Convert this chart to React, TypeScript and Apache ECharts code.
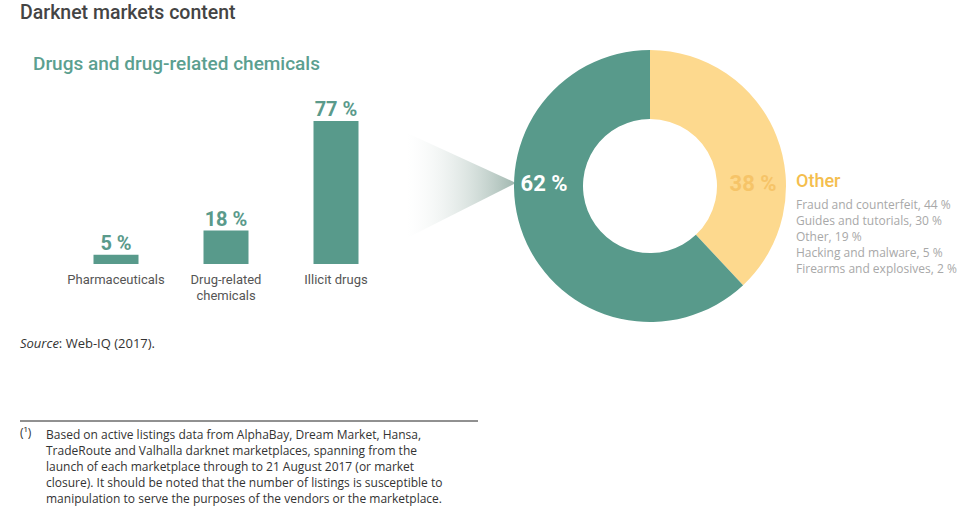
import React, { useEffect, useRef } from "react";
import * as echarts from "echarts";

const barCategories = ["Pharmaceuticals", "Drug-related\nchemicals", "Illicit drugs"];
const barValues = [5, 18, 77];

const pieNames = ["Other", "Drugs and drug-related chemicals"];
const pieValues = [38, 62];

const otherItems = [
  "Fraud and counterfeit",
  "Guides and tutorials",
  "Other",
  "Hacking and malware",
  "Firearms and explosives",
];
const otherValues = [44, 30, 19, 5, 2];

const footnoteLines = [
  "Based on active listings data from AlphaBay, Dream Market, Hansa,",
  "TradeRoute and Valhalla darknet marketplaces, spanning from the",
  "launch of each marketplace through to 21 August 2017 (or market",
  "closure). It should be noted that the number of listings is susceptible to",
  "manipulation to serve the purposes of the vendors or the marketplace.",
];

const TEAL = "#589a8b";
const YELLOW = "#fdd98e";
const FONT = "'Open Sans', Roboto, sans-serif";
const FONT2 = "Roboto, 'Noto Sans', sans-serif";

export default function App() {
  const ref = useRef<HTMLDivElement>(null);
  useEffect(() => {
    document.body.style.margin = "0";
    const chart = echarts.init(ref.current!, null, { renderer: "svg" });
    const cx = 650;
    const cy = 186;
    const graphics: any[] = [
      {
        type: "polygon",
        z: 0,
        shape: { points: [[407, 133], [516, 183], [407, 238]] },
        style: {
          fill: new echarts.graphic.LinearGradient(0, 0, 1, 0, [
            { offset: 0, color: "rgba(235,240,238,0)" },
            { offset: 1, color: "#9fb6ae" },
          ]),
        },
      },
      {
        type: "text",
        left: 20,
        top: 2,
        style: { text: "Darknet markets content", fontSize: 19.5, fontWeight: 500, fill: "#444", fontFamily: FONT2 },
      },
      {
        type: "text",
        left: 33,
        top: 54,
        style: { text: "Drugs and drug-related chemicals", fontSize: 19, fontWeight: 500, fill: "#5c9f90", fontFamily: FONT2 },
      },
      {
        type: "text",
        x: 544,
        y: cy - 3,
        z: 10,
        style: {
          text: pieValues[1] + " %",
          fontSize: 22,
          fontWeight: "bold",
          fill: "#fff",
          align: "center",
          verticalAlign: "middle",
          fontFamily: FONT2,
        },
      },
      {
        type: "text",
        x: 753,
        y: cy - 3,
        z: 10,
        style: {
          text: pieValues[0] + " %",
          fontSize: 22,
          fontWeight: "bold",
          fill: "#f6c468",
          align: "center",
          verticalAlign: "middle",
          fontFamily: FONT2,
        },
      },
      {
        type: "text",
        x: 796,
        y: 171,
        style: { text: pieNames[0], fontSize: 18, fontWeight: 500, fill: "#f4be4e", fontFamily: FONT2 },
      },
      {
        type: "text",
        x: 796,
        y: 196,
        style: {
          text: otherItems.map((n, i) => `${n}, ${otherValues[i]} %`).join("\n"),
          fontSize: 12,
          lineHeight: 16,
          fill: "#a8a8a8",
          fontFamily: FONT,
        },
      },
      {
        type: "text",
        x: 20,
        y: 336,
        style: {
          text: "{i|Source}: Web-IQ (2017).",
          fontSize: 13,
          fill: "#333",
          fontFamily: FONT,
          rich: { i: { fontStyle: "italic", fontSize: 13, fill: "#333", fontFamily: FONT } },
        },
      },
      {
        type: "line",
        shape: { x1: 20, y1: 421, x2: 478, y2: 421 },
        style: { stroke: "#222", lineWidth: 1 },
      },
      {
        type: "text",
        x: 20,
        y: 426,
        style: { text: "(¹)", fontSize: 12, fill: "#333", fontFamily: FONT },
      },
      {
        type: "text",
        x: 46,
        y: 426,
        style: { text: footnoteLines.join("\n"), fontSize: 12, lineHeight: 16, fill: "#333", fontFamily: FONT },
      },
    ];
    chart.setOption({
      animation: false,
      textStyle: { fontFamily: FONT },
      grid: { left: 61, width: 330, top: 121, height: 143 },
      xAxis: {
        type: "category",
        data: barCategories,
        axisLine: { show: false },
        axisTick: { show: false },
        axisLabel: { color: "#555", fontSize: 13, margin: 7, lineHeight: 16, interval: 0, fontFamily: FONT2 },
      },
      yAxis: {
        type: "value",
        min: 0,
        max: 77,
        show: false,
        splitLine: { show: false },
      },
      series: [
        {
          type: "bar",
          data: barValues,
          barWidth: 45,
          itemStyle: { color: TEAL },
          label: {
            show: true,
            position: "top",
            distance: 2,
            formatter: "{c} %",
            color: "#5a9a8b",
            fontSize: 20,
            fontWeight: "bold",
            fontFamily: FONT2,
          },
        },
        {
          type: "pie",
          center: [cx, cy],
          radius: [67, 136],
          startAngle: 90,
          clockwise: true,
          label: { show: false },
          labelLine: { show: false },
          emphasis: { disabled: true },
          z: 5,
          data: pieNames.map((n, i) => ({
            name: n,
            value: pieValues[i],
            itemStyle: { color: i === 0 ? YELLOW : TEAL },
          })),
        },
      ],
      graphic: graphics,
    });
    return () => chart.dispose();
  }, []);
  return <div ref={ref} style={{ width: 975, height: 524 }} />;
}
